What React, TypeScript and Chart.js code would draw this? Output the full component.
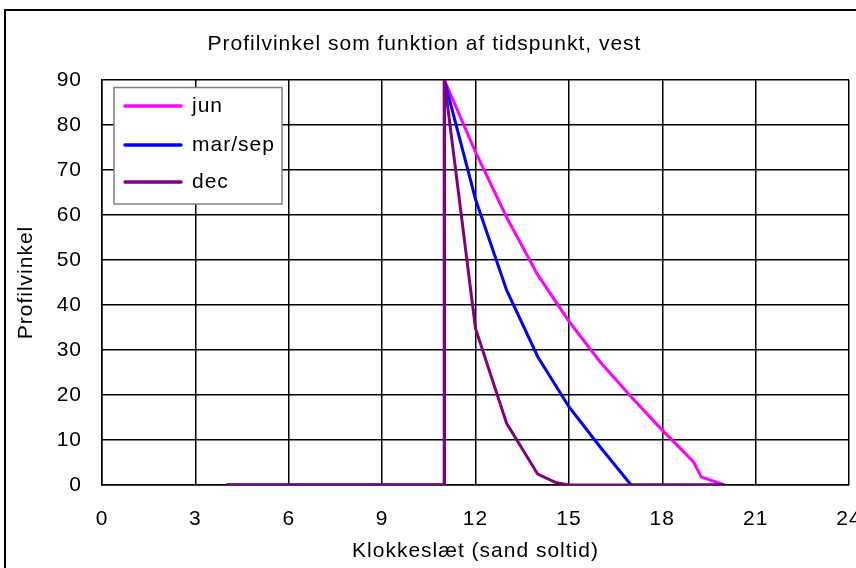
import React, { useEffect, useRef } from "react";
import { Chart, registerables } from "chart.js";

Chart.register(...registerables);

const titleText = "Profilvinkel som funktion af tidspunkt, vest";
const xTitle = "Klokkeslæt (sand soltid)";
const yTitle = "Profilvinkel";

const seriesLabels = ["jun", "mar/sep", "dec"];
const seriesColors = ["#FF00FF", "#0000FF", "#800080"];

const junX = [4, 11, 11, 12, 13, 14, 15, 16, 17, 18, 19, 19.25, 20];
const junY = [0, 0, 90, 74, 59.5, 46.7, 36.4, 27.4, 19.6, 12.2, 5.2, 1.8, 0];

const marX = [4, 11, 11, 12, 13, 14, 15, 16, 17, 20];
const marY = [0, 0, 90, 63.5, 43.3, 28.5, 17.4, 8.5, 0, 0];

const decX = [4, 11, 11, 12, 13, 14, 14.6, 15, 20];
const decY = [0, 0, 90, 34.8, 13.7, 2.4, 0.5, 0, 0];

const xMin = 0;
const xMax = 24;
const xStep = 3;
const yMin = 0;
const yMax = 90;
const yStep = 10;

const FONT = "'Liberation Sans', Arial, sans-serif";
const FS = 21;
const SPACING = "1px";

const toPoints = (xs: number[], ys: number[]) => xs.map((x, i) => ({ x, y: ys[i] }));

const spacingPlugin = {
  id: "spacing",
  beforeUpdate(chart: any) {
    chart.ctx.letterSpacing = SPACING;
  },
  beforeLayout(chart: any) {
    chart.ctx.letterSpacing = SPACING;
  },
  beforeDraw(chart: any) {
    chart.ctx.letterSpacing = SPACING;
  },
};

const framePlugin = {
  id: "frame",
  beforeDraw(chart: any) {
    const { ctx, width, height } = chart;
    ctx.save();
    ctx.fillStyle = "#fff";
    ctx.fillRect(0, 0, width, height);
    ctx.strokeStyle = "#000";
    ctx.lineWidth = 2;
    ctx.beginPath();
    ctx.moveTo(5, height + 2);
    ctx.lineTo(5, 10);
    ctx.lineTo(width + 2, 10);
    ctx.stroke();
    ctx.restore();
  },
};

const legendPlugin = {
  id: "boxLegend",
  afterDatasetsDraw(chart: any) {
    const { ctx } = chart;
    const left = 114;
    const top = 87.5;
    const right = 282;
    const bottom = 204;
    ctx.save();
    ctx.fillStyle = "#fff";
    ctx.fillRect(left, top, right - left, bottom - top);
    ctx.strokeStyle = "#808080";
    ctx.lineWidth = 1.5;
    ctx.strokeRect(left, top, right - left, bottom - top);
    const rows = [106, 145, 182];
    chart.data.datasets.forEach((ds: any, i: number) => {
      const y = rows[i];
      ctx.strokeStyle = ds.borderColor;
      ctx.lineWidth = 3.5;
      ctx.lineCap = "round";
      ctx.beginPath();
      ctx.moveTo(125, y);
      ctx.lineTo(181, y);
      ctx.stroke();
      ctx.fillStyle = "#000";
      ctx.font = `${FS}px ${FONT}`;
      ctx.textBaseline = "middle";
      ctx.textAlign = "left";
      ctx.fillText(ds.label, 192, y);
    });
    ctx.restore();
  },
};

export default function App() {
  const ref = useRef<HTMLCanvasElement | null>(null);

  useEffect(() => {
    if (!ref.current) return;
    const chart = new Chart(ref.current, {
      type: "line",
      data: {
        datasets: [
          {
            label: seriesLabels[0],
            data: toPoints(junX, junY),
            borderColor: seriesColors[0],
            backgroundColor: seriesColors[0],
            order: 2,
          },
          {
            label: seriesLabels[1],
            data: toPoints(marX, marY),
            borderColor: seriesColors[1],
            backgroundColor: seriesColors[1],
            order: 1,
          },
          {
            label: seriesLabels[2],
            data: toPoints(decX, decY),
            borderColor: seriesColors[2],
            backgroundColor: seriesColors[2],
            order: 0,
          },
        ],
      },
      options: {
        responsive: false,
        animation: false,
        parsing: false as any,
        elements: {
          line: { borderWidth: 3, tension: 0, fill: false },
          point: { radius: 0, hoverRadius: 0 },
        },
        layout: { padding: { left: 0, right: 7, top: 0, bottom: 0 } },
        plugins: {
          legend: { display: false },
          tooltip: { enabled: false },
          title: {
            display: true,
            text: titleText,
            color: "#000",
            font: { family: FONT, size: FS, weight: "normal" },
            padding: { top: 32, bottom: 22.8 },
          },
        },
        scales: {
          x: {
            type: "linear",
            min: xMin,
            max: xMax,
            afterFit(scale: any) {
              scale.height = 83;
              scale.paddingLeft = 0;
              scale.paddingRight = 0;
            },
            ticks: {
              stepSize: xStep,
              color: "#000",
              font: { family: FONT, size: FS },
              padding: 22,
              maxRotation: 0,
              autoSkip: false,
            },
            grid: { color: "#000", lineWidth: 1.5, drawTicks: false },
            border: { color: "#000", width: 1.5 },
            title: {
              display: true,
              text: xTitle,
              color: "#000",
              font: { family: FONT, size: FS },
              padding: { top: 0, bottom: 4 },
            },
          },
          y: {
            type: "linear",
            min: yMin,
            max: yMax,
            afterFit(scale: any) {
              scale.width = 102;
              scale.paddingTop = 0;
              scale.paddingBottom = 0;
            },
            ticks: {
              stepSize: yStep,
              color: "#000",
              font: { family: FONT, size: FS },
              padding: 20,
            },
            grid: { color: "#000", lineWidth: 1.5, drawTicks: false },
            border: { color: "#000", width: 1.5 },
            title: {
              display: true,
              text: yTitle,
              color: "#000",
              font: { family: FONT, size: FS },
              padding: { top: 14, bottom: 0 },
            },
          },
        },
      },
      plugins: [spacingPlugin, framePlugin, legendPlugin],
    });
    return () => chart.destroy();
  }, []);

  return (
    <div style={{ position: "absolute", left: 0, top: 0, width: 856, height: 568, overflow: "hidden" }}>
      <canvas ref={ref} width={856} height={568} style={{ width: 856, height: 568, display: "block" }} />
    </div>
  );
}
